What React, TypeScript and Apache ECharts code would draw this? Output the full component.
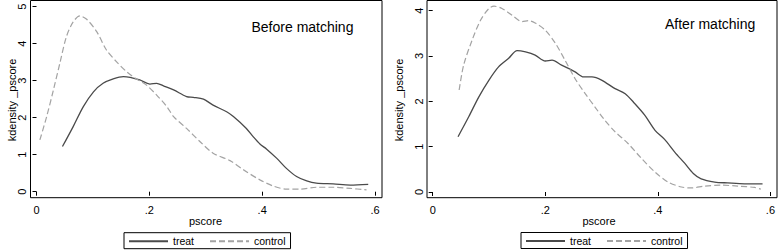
import React, { useEffect, useRef } from "react";
import * as echarts from "echarts";

// ---- data ----
const treatBefore: [number, number][] = [
  [0.046, 1.22], [0.065, 1.76], [0.083, 2.3], [0.101, 2.7], [0.118, 2.93],
  [0.136, 3.05], [0.154, 3.11], [0.166, 3.09], [0.183, 3.02], [0.201, 2.91],
  [0.213, 2.93], [0.225, 2.86], [0.243, 2.75], [0.266, 2.57], [0.278, 2.55],
  [0.296, 2.5], [0.313, 2.34], [0.337, 2.16], [0.349, 2.03], [0.372, 1.71],
  [0.384, 1.49], [0.396, 1.29], [0.408, 1.15], [0.426, 0.9], [0.443, 0.63],
  [0.461, 0.41], [0.479, 0.29], [0.496, 0.23], [0.526, 0.21], [0.556, 0.18],
  [0.588, 0.2],
];
const controlBefore: [number, number][] = [
  [0.006, 1.4], [0.018, 2.03], [0.03, 2.75], [0.042, 3.51], [0.053, 4.19],
  [0.065, 4.59], [0.077, 4.75], [0.089, 4.66], [0.107, 4.32], [0.124, 3.83],
  [0.142, 3.51], [0.16, 3.24], [0.178, 3.04], [0.195, 2.88], [0.213, 2.61],
  [0.231, 2.3], [0.243, 2.03], [0.266, 1.71], [0.29, 1.35], [0.313, 1.04],
  [0.343, 0.84], [0.367, 0.59], [0.396, 0.32], [0.42, 0.15], [0.443, 0.07],
  [0.467, 0.07], [0.496, 0.12], [0.526, 0.12], [0.556, 0.09], [0.585, 0.05],
];
const treatAfter: [number, number][] = [
  [0.045, 1.22], [0.064, 1.66], [0.082, 2.1], [0.1, 2.47], [0.117, 2.76],
  [0.135, 2.95], [0.15, 3.12], [0.165, 3.09], [0.182, 3.02], [0.2, 2.89],
  [0.212, 2.91], [0.229, 2.8], [0.253, 2.65], [0.268, 2.54], [0.283, 2.54],
  [0.3, 2.47], [0.324, 2.28], [0.342, 2.17], [0.359, 1.95], [0.377, 1.69],
  [0.395, 1.36], [0.412, 1.16], [0.43, 0.88], [0.448, 0.63], [0.463, 0.41],
  [0.477, 0.29], [0.501, 0.22], [0.524, 0.2], [0.554, 0.18], [0.586, 0.18],
];
const controlAfter: [number, number][] = [
  [0.047, 2.25], [0.055, 2.8], [0.07, 3.35], [0.085, 3.79], [0.1, 4.05],
  [0.109, 4.1], [0.123, 4.05], [0.141, 3.9], [0.159, 3.76], [0.17, 3.78],
  [0.182, 3.73], [0.2, 3.57], [0.218, 3.28], [0.235, 2.91], [0.253, 2.5],
  [0.271, 2.17], [0.288, 1.88], [0.306, 1.58], [0.324, 1.33], [0.347, 1.07],
  [0.371, 0.74], [0.395, 0.44], [0.418, 0.22], [0.442, 0.11], [0.46, 0.09],
  [0.483, 0.13], [0.513, 0.15], [0.542, 0.13], [0.572, 0.1], [0.583, 0.06],
];
const seriesNames = ["treat", "control"];
const panelTitles = ["Before matching", "After matching"];
const xTitle = "pscore";
const yTitle = "kdensity _pscore";
const yMax = [5, 4];

const FONT = "'Liberation Sans', Arial, Helvetica, sans-serif";
const TREAT_COLOR = "#4a4a4a";
const CONTROL_COLOR = "#a3a3a3";

const fmtX = (v: number) => {
  const r = Number(v.toFixed(1));
  return r === 0 ? "0" : String(r).replace(/^0/, "");
};

export default function App() {
  const ref = useRef<HTMLDivElement>(null);
  useEffect(() => {
    if (!ref.current) return;
    const chart = echarts.init(ref.current, undefined, { renderer: "svg" });

    const grids = [
      { left: 36.5, right: 403, top: 6.7, bottom: 58.3 },
      { left: 432.7, right: 6.5, top: 10.7, bottom: 58 },
    ];
    const frames = [
      { x: 30.5, y: 0.5, w: 351.5, h: 197.2 },
      { x: 427, y: 0.5, w: 350, h: 197.2 },
    ];
    const xOffsets = [6, 5.7];
    const yOffsets = [6.2, 5.7];
    const legendPos = [
      { left: 124, top: 232.7 },
      { left: 521, top: 232.5 },
    ];
    const titlePos = [
      { left: 251.5, top: 19.5 },
      { left: 665, top: 17 },
    ];
    const yTitleX = [12, 398.5];
    const xTitleX = [205.5, 599];

    const labelStyle = { color: "#000", fontFamily: FONT, fontSize: 11 };

    const option: any = {
      animation: false,
      backgroundColor: "#fff",
      title: panelTitles.map((t, i) => ({
        text: t,
        left: titlePos[i].left,
        top: titlePos[i].top,
        padding: 0,
        textStyle: { fontFamily: FONT, fontSize: 14, fontWeight: "normal", color: "#000" },
      })),
      grid: grids,
      xAxis: grids.map((_, i) => ({
        type: "value",
        gridIndex: i,
        min: 0,
        max: 0.6,
        interval: 0.2,
        offset: xOffsets[i],
        axisLine: { show: false },
        axisTick: { show: true, length: 4, lineStyle: { color: "#000", width: 1 } },
        axisLabel: { ...labelStyle, margin: 7, formatter: fmtX },
        splitLine: { show: false },
      })),
      yAxis: grids.map((_, i) => ({
        type: "value",
        gridIndex: i,
        min: 0,
        max: yMax[i],
        interval: 1,
        offset: yOffsets[i],
        axisLine: { show: false },
        axisTick: { show: true, length: 4, lineStyle: { color: "#000", width: 1 } },
        axisLabel: { ...labelStyle, margin: 3, rotate: 90 },
        splitLine: { show: false },
      })),
      legend: legendPos.map((p) => ({
        left: p.left,
        top: p.top,
        orient: "horizontal",
        data: seriesNames,
        itemWidth: 39,
        itemHeight: 8,
        itemGap: 15,
        padding: [3, 5, 2, 4],
        borderColor: "#000",
        borderWidth: 1,
        borderRadius: 0,
        selectedMode: false,
        itemStyle: { opacity: 0, borderWidth: 0 },
        textStyle: { fontFamily: FONT, fontSize: 10.5, color: "#000" },
      })),
      graphic: [
        ...frames.map((f) => ({
          type: "rect",
          shape: { x: f.x, y: f.y, width: f.w, height: f.h },
          style: { fill: "none", stroke: "#000", lineWidth: 1 },
          silent: true,
          z: 10,
        })),
        ...yTitleX.map((x) => ({
          type: "text",
          x,
          y: 100,
          rotation: Math.PI / 2,
          style: {
            text: yTitle,
            fontFamily: FONT,
            fontSize: 11,
            fill: "#000",
            align: "center",
            verticalAlign: "middle",
          },
          silent: true,
        })),
        ...xTitleX.map((x) => ({
          type: "text",
          x,
          y: 220.5,
          style: {
            text: xTitle,
            fontFamily: FONT,
            fontSize: 11,
            fill: "#000",
            align: "center",
            verticalAlign: "middle",
          },
          silent: true,
        })),
      ],
      series: [
        [treatBefore, controlBefore],
        [treatAfter, controlAfter],
      ].flatMap((pair, i) => [
        {
          name: seriesNames[0],
          type: "line",
          xAxisIndex: i,
          yAxisIndex: i,
          data: pair[0],
          smooth: 0.3,
          symbol: "none",
          clip: false,
          lineStyle: { color: TREAT_COLOR, width: 1.3, type: "solid" },
          itemStyle: { color: TREAT_COLOR },
        },
        {
          name: seriesNames[1],
          type: "line",
          xAxisIndex: i,
          yAxisIndex: i,
          data: pair[1],
          smooth: 0.3,
          symbol: "none",
          clip: false,
          lineStyle: { color: CONTROL_COLOR, width: 1.2, type: [6, 3] },
          itemStyle: { color: CONTROL_COLOR },
        },
      ]),
    };
    chart.setOption(option);
    return () => chart.dispose();
  }, []);

  return (
    <div
      ref={ref}
      style={{ position: "absolute", left: 0, top: 0, width: 778, height: 250 }}
    />
  );
}
